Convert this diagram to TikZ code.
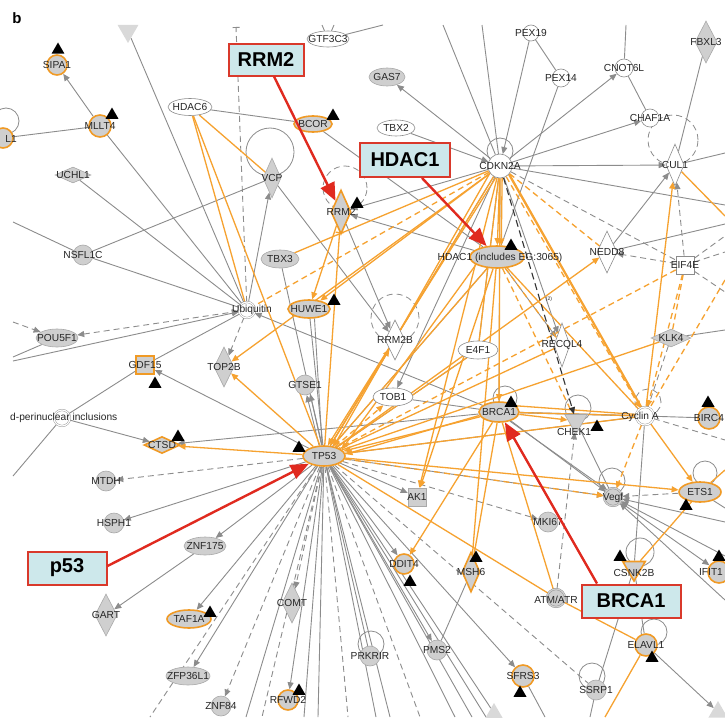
\documentclass[tikz,border=0pt]{standalone}
\usepackage{fontspec}
\setmainfont{Liberation Sans}
\usetikzlibrary{shapes.geometric,arrows.meta,calc}
\definecolor{egray}{HTML}{8C8C8C}
\definecolor{ngray}{HTML}{CFCFCF}
\definecolor{nbord}{HTML}{A9A9A9}
\definecolor{eor}{HTML}{F6A230}
\definecolor{nor}{HTML}{F09A25}
\definecolor{lbfill}{HTML}{CDE8EB}
\definecolor{lbred}{HTML}{D9392B}
\definecolor{redar}{HTML}{E02A1F}
\pgfdeclarelayer{bg}
\pgfsetlayers{bg,main}
\newcommand\Nd[4]{\node[#1] (#2) at (#3) {}; \node[lbl] (#2-t) at (#3) {#4};}
\newcommand\Mk[2]{\node[mk] (#1-m) at (#2) {};}
\tikzset{
 lbl/.style={font=\fontsize{10.2}{11}\selectfont, text=black!85, inner sep=0pt},
 nG/.style={fill=ngray, draw=nbord, line width=0.6pt, inner sep=0pt},
 nW/.style={fill=white, draw=egray, line width=0.6pt, inner sep=0pt},
 nO/.style={fill=ngray, draw=nor, line width=1.6pt, inner sep=0pt},
 cir/.style={circle, minimum size=20pt},
 ell/.style={ellipse, minimum width=40pt, minimum height=18pt},
 vdia/.style={diamond, minimum width=20pt, minimum height=42pt},
 hdia/.style={diamond, minimum width=36pt, minimum height=16pt},
 sq/.style={rectangle, minimum size=18pt},
 dtri/.style={regular polygon, regular polygon sides=3, shape border rotate=180, minimum size=26pt},
 utri/.style={regular polygon, regular polygon sides=3, minimum size=22pt},
 dcir/.style={circle, double=white, double distance=1.2pt, draw=egray, fill=white, minimum size=16pt, inner sep=0pt},
 mk/.style={regular polygon, regular polygon sides=3, fill=black, draw=none, minimum size=15pt, inner sep=0pt},
 loopc/.style={circle, draw=egray, line width=0.8pt, fill=none, inner sep=0pt},
 labbox/.style={rectangle, fill=lbfill, draw=lbred, line width=2pt, font=\bfseries\fontsize{20}{22}\selectfont, inner sep=0pt},
 eg/.style={draw=egray, line width=0.9pt},
 ea/.style={-{Triangle[length=7pt,width=6pt]}},
 eab/.style={{Triangle[length=7pt,width=6pt]}-{Triangle[length=7pt,width=6pt]}},
 dsh/.style={dash pattern=on 6pt off 4pt},
 eo/.style={draw=eor, line width=1.3pt},
 ek/.style={draw=black!80, line width=1.1pt, dash pattern=on 7pt off 4pt},
 ered/.style={draw=redar, line width=2.4pt, -{Triangle[length=18pt,width=15pt]}}
}
\begin{document}
\begin{tikzpicture}[x=1pt,y=-1pt]
\useasboundingbox (0,0) rectangle (725,717);
\begin{pgfonlayer}{bg}
\fill[white] (0,0) rectangle (725,717);
\end{pgfonlayer}
\node[font=\bfseries\fontsize{15}{16}\selectfont, inner sep=0pt] (panelb) at (17,18) {b};
% ---------- nodes ----------
\Nd{nO,cir}{sipa}{57,65}{SIPA1}
\Mk{sipa}{58,50}
\Nd{nO,cir,minimum size=22pt}{mllt}{100,126}{MLLT4}
\Mk{mllt}{112,115}
\node[nO,cir] (lone) at (3,138) {}; \node[lbl,anchor=east] (lone-t) at (17,139) {L1};
\node[dtri,minimum size=24pt,fill=ngray!80,draw=none] (toptri) at (128,31) {};
\Nd{nG,hdia}{uchl}{73,175}{UCHL1}
\Nd{nW,ell,minimum width=44pt,minimum height=17pt}{hdacsix}{190,107}{HDAC6}
\Nd{nW,ell,minimum width=42pt,minimum height=16pt}{gtf}{328,39}{GTF3C3}
\Nd{nG,ell,minimum width=36pt}{gas}{387,77}{GAS7}
\Nd{nO,ell,minimum width=38pt,minimum height=16pt}{bcor}{313,124}{BCOR}
\Mk{bcor}{333,116}
\Nd{nW,ell,minimum width=38pt,minimum height=16pt}{tbxtwo}{396,128}{TBX2}
\Nd{nW,cir,minimum size=16pt}{pexnine}{531,33}{PEX19}
\Nd{nW,cir,minimum size=18pt}{pexfour}{561,78}{PEX14}
\Nd{nW,cir,minimum size=18pt}{cnot}{624,68}{CNOT6L}
\Nd{nG,vdia,minimum width=22pt}{fbxl}{706,42}{FBXL3}
\Nd{nW,cir,minimum size=18pt}{chaf}{650,118}{CHAF1A}
\Nd{nW,vdia,minimum width=18pt}{cul}{675,165}{CUL1}
\Nd{nW,cir,minimum size=24pt}{cdkn}{500,166}{CDKN2A}
\Nd{nG,vdia,minimum width=18pt,minimum height=40pt}{vcp}{272,178}{VCP}
\Nd{nO,vdia,minimum width=20pt,minimum height=44pt}{rrm}{341,212}{RRM2}
\Mk{rrm}{357,204}
\Nd{nG,cir}{nsfl}{83,255}{NSFL1C}
\Nd{nG,ell,minimum width=38pt}{tbxthree}{280,259}{TBX3}
\node[dcir] (ubq) at (247,310) {}; \node[lbl] (ubq-t) at (252,310) {Ubiquitin};
\Nd{nO,ell,minimum width=42pt}{huwe}{309,309}{HUWE1}
\Mk{huwe}{334,301}
\node[nO,ell,minimum width=54pt,minimum height=22pt] (hdac) at (497,257) {};
\node[lbl] (hdac-t) at (500,258) {HDAC1 (includes EG:3065)};
\Mk{hdac}{511,246}
\Nd{nW,vdia,minimum width=20pt}{nedd}{607,252}{NEDD8}
\Nd{nW,sq}{eif}{685,265}{EIF4E}
\Nd{nG,ell,minimum width=42pt}{pou}{57,338}{POU5F1}
\Nd{nW,vdia,minimum width=20pt,minimum height=40pt}{rrmb}{395,340}{RRM2B}
\Nd{nW,ell,minimum width=40pt}{efour}{478,350}{E4F1}
\Nd{nW,vdia,minimum width=16pt,minimum height=44pt}{recq}{562,345}{RECQL4}
\Nd{nG,hdia,minimum width=40pt,minimum height=18pt}{klk}{671,338}{KLK4}
\Nd{nO,sq}{gdf}{145,365}{GDF15}
\Mk{gdf}{155,384}
\Nd{nG,vdia,minimum width=20pt,minimum height=40pt}{topb}{224,367}{TOP2B}
\Nd{nG,cir}{gtse}{305,385}{GTSE1}
\Nd{nW,ell,minimum width=40pt}{tob}{393,397}{TOB1}
\Nd{nO,ell,minimum width=40pt,minimum height=20pt}{brca}{499,412}{BRCA1}
\Mk{brca}{511,403}
\node[nG,dtri,minimum size=26pt] (chek) at (576,421) {}; \node[lbl] (chek-t) at (574,432) {CHEK1};
\Mk{chek}{597,427}
\node[dcir,minimum size=18pt] (cyca) at (645,416) {}; \node[lbl] (cyca-t) at (640,417) {Cyclin A};
\Nd{nO,cir,minimum size=22pt}{birc}{709,418}{BIRC4}
\Mk{birc}{708,403}
\node[dcir] (incl) at (62,418) {}; \node[lbl,anchor=west] (incl-t) at (10,418) {d-perinuclear inclusions};
\Nd{nO,hdia,minimum width=36pt,minimum height=17pt}{ctsd}{162,445}{CTSD}
\Mk{ctsd}{178,437}
\Nd{nO,ell,minimum width=42pt,minimum height=20pt}{tp}{324,456}{TP53}
\Mk{tp}{299,448}
\Nd{nG,cir}{mtdh}{106,481}{MTDH}
\Nd{nG,cir}{hsph}{114,523}{HSPH1}
\Nd{nG,sq}{ak}{417,497}{AK1}
\Nd{nG,cir}{mki}{548,522}{MKI67}
\node[dcir,fill=ngray,double=ngray,minimum size=18pt] (vegf) at (613,497) {}; \node[lbl] (vegf-t) at (613,498) {Vegf};
\Nd{nO,ell,minimum width=42pt,minimum height=20pt}{ets}{700,492}{ETS1}
\Mk{ets}{686,506}
\Nd{nG,ell,minimum width=42pt}{znfone}{205,546}{ZNF175}
\Nd{nO,cir}{ddit}{404,564}{DDIT4}
\Mk{ddit}{410,582}
\Nd{nO,vdia,minimum width=18pt,minimum height=40pt}{msh}{471,572}{MSH6}
\Mk{msh}{476,558}
\node[nO,dtri,minimum size=26pt] (csnk) at (634,568) {}; \node[lbl] (csnk-t) at (634,573) {CSNK2B};
\Mk{csnk}{620,557}
\node[nO,cir,minimum size=22pt] (ifit) at (719,572) {}; \node[lbl] (ifit-t) at (711,572) {IFIT1};
\Mk{ifit}{719,557}
\Nd{nG,vdia,minimum width=22pt}{gart}{106,615}{GART}
\Nd{nO,ell,minimum width=44pt}{taf}{189,619}{TAF1A}
\Mk{taf}{210,613}
\Nd{nG,vdia,minimum width=20pt,minimum height=40pt}{comt}{292,603}{COMT}
\node[dcir,fill=ngray,double=ngray,minimum size=18pt] (atm) at (556,598) {}; \node[lbl] (atm-t) at (556,600) {ATM/ATR};
\Nd{nO,cir,minimum size=22pt}{elav}{646,645}{ELAVL1}
\Mk{elav}{652,658}
\Nd{nG,cir}{prk}{370,656}{PRKRIR}
\Nd{nG,cir}{pms}{437,650}{PMS2}
\Nd{nG,ell,minimum width=44pt}{zfp}{188,676}{ZFP36L1}
\Nd{nO,cir,minimum size=22pt}{sfrs}{523,676}{SFRS3}
\Mk{sfrs}{520,693}
\Nd{nG,cir}{ssrp}{596,690}{SSRP1}
\Nd{nO,cir}{rfwd}{288,700}{RFWD2}
\Mk{rfwd}{299,691}
\Nd{nG,cir}{znfe}{221,706}{ZNF84}
\node[utri,fill=ngray!80,draw=none,minimum size=20pt] (bltri) at (494,713) {};
\node[utri,fill=ngray!80,draw=none,minimum size=22pt] (brtri) at (718,712) {};
\node[lbl,font=\fontsize{5}{6}\selectfont] (pair-t) at (549,299) {(2)};
% label boxes
\node[labbox,minimum width=75pt,minimum height=31pt] (lbrrm) at (266,60) {RRM2};
\node[labbox,minimum width=90pt,minimum height=34pt] (lbhdac) at (405,160) {HDAC1};
\node[labbox,minimum width=79pt,minimum height=33pt] (lbp) at (67,568) {p53};
\node[labbox,minimum width=99pt,minimum height=33pt] (lbbrca) at (631,601) {BRCA1};
% ---------- free ends ----------
\coordinate (cT1) at (443,25); \coordinate (cT2) at (482,25); \coordinate (cT3) at (383,25);
\coordinate (cT5) at (626,25); \coordinate (cT6) at (322,25); \coordinate (cT7) at (334,25);
\coordinate (cT8) at (236,27);
\coordinate (cL1) at (13,222); \coordinate (cL2) at (13,322); \coordinate (cL3) at (13,357);
\coordinate (cL4) at (13,361); \coordinate (cL5) at (13,476);
\coordinate (cR1) at (725,153); \coordinate (cR2) at (725,440); \coordinate (cR3) at (725,522);
\coordinate (cR4) at (725,556); \coordinate (cR5) at (725,600); \coordinate (cR6) at (725,508);
\coordinate (cR7) at (725,205); \coordinate (cR8) at (725,224); \coordinate (cR9) at (725,236);
\coordinate (cR10) at (725,252); \coordinate (cR11) at (725,292); \coordinate (cR12) at (725,330);
\coordinate (cR14) at (725,470); \coordinate (cR15) at (725,216); \coordinate (cR16) at (725,280);
\coordinate (cB1) at (545,717); \coordinate (cB2) at (605,717); \coordinate (cB3) at (590,717);
\coordinate (s1) at (150,717); \coordinate (s2) at (246,717); \coordinate (s3) at (262,717);
\coordinate (s4) at (304,717); \coordinate (s5) at (318,717); \coordinate (s6) at (348,717);
\coordinate (s7) at (376,717); \coordinate (s8) at (390,717); \coordinate (s9) at (420,717);
\coordinate (s10) at (455,717); \coordinate (s11) at (472,717); \coordinate (s12) at (486,717);
% ---------- edges ----------
\begin{pgfonlayer}{bg}
% loops
\node[loopc,minimum size=26pt] (lone-l) at (6,121) {};
\node[loopc,minimum size=48pt] (vcp-l) at (270,152) {};
\node[loopc,dsh,minimum size=44pt] (rrm-l) at (345,188) {};
\node[loopc,minimum size=26pt] (cdkn-l) at (500,151) {};
\node[loopc,dsh,minimum size=50pt] (cul-l) at (673,140) {};
\node[loopc,dsh,minimum size=48pt] (rrmb-l) at (395,318) {};
\node[loopc,minimum size=24pt] (brca-l) at (505,398) {};
\node[loopc,minimum size=26pt] (chek-l) at (578,408) {};
\node[loopc,dsh,minimum size=26pt] (cyca-l) at (648,402) {};
\node[loopc,minimum size=26pt] (vegf-l) at (612,481) {};
\node[loopc,minimum size=24pt] (ets-l) at (705,473) {};
\node[loopc,minimum size=28pt] (csnk-l) at (640,552) {};
\node[loopc,minimum size=26pt] (elav-l) at (654,632) {};
\node[loopc,minimum size=26pt] (prk-l) at (371,644) {};
\node[loopc,minimum size=26pt] (ssrp-l) at (592,676) {};
% gray edges
\draw[eg,ea] (mllt) -- (sipa);
\draw[eg] (lone) -- (mllt);
\draw[eg] (mllt) -- (ubq);
\draw[eg] (toptri) -- (ubq);
\draw[eg] (uchl) -- (ubq);
\draw[eg] (nsfl) -- (ubq);
\draw[eg] (nsfl) -- (cL1);
\draw[eg] (nsfl) -- (vcp);
\draw[eg] (hdacsix) -- (bcor);
\draw[eg,dsh,-{Bar[width=7pt]}] (ubq) -- (cT8);
\draw[eg,ea] (ubq) -- (vcp);
\draw[eg,ea] (vcp) -- (rrmb);
\draw[eg] (bcor) -- (hdac);
\draw[eg,ea] (cdkn) -- (gas);
\draw[eg,ea] (tbxtwo) -- (cdkn);
\draw[eg] (pexnine) -- (pexfour);
\draw[eg,ea] (pexnine) -- (cdkn);
\draw[eg] (pexfour) -- (hdac);
\draw[eg] (cnot) -- (chaf);
\draw[eg,ea] (cdkn) -- (cnot);
\draw[eg,ea] (cdkn) -- (chaf);
\draw[eg,ea] (cdkn) -- (cul);
\draw[eg] (cnot) -- (cT5);
\draw[eg] (fbxl) -- (cul);
\draw[eg] (cul) -- (cR1);
\draw[eg] (cT1) -- (cdkn);
\draw[eg] (cT2) -- (cdkn);
\draw[eg] (gtf) -- (cT3);
\draw[eg] (gtf) -- (cT6);
\draw[eg] (gtf) -- (cT7);
\draw[eg,ea] (cdkn) -- (rrm);
\draw[eg,ea] (hdac) -- (rrm);
\draw[eg,ea] (rrm) -- (rrmb);
\draw[eg] (tbxthree) -- (tp);
\draw[eg] (huwe) -- (tp);
\draw[eg] (huwe.300) -- (tp.100);
\draw[eg,ea] (tp.115) -- (gtse.280);
\draw[eg,ea] (tp.100) -- (gtse.300);
\draw[eg,dsh,ea] (ubq) -- (topb);
\draw[eg,dsh,eab] (pou) -- (ubq);
\draw[eg,dsh,ea] (cL2) -- (pou);
\draw[eg] (pou) -- (cL3);
\draw[eg,ea] (cL4) -- (ubq);
\draw[eg] (gdf) -- (ubq);
\draw[eg] (incl) -- (gdf);
\draw[eg] (incl) -- (cL5);
\draw[eg,ea] (incl) -- (ctsd);
\draw[eg,ea] (tp) -- (gdf);
\draw[eg,ea] (brca) -- (ctsd);
\draw[eg,ea] (brca) -- (ubq);
\draw[eg,ea] (cdkn) -- (tob);
\draw[eg] (cdkn) -- (tp);
\draw[eg] (hdac) -- (tp);
\draw[eg] (efour) -- (tp);
\draw[eg,dsh,ea] (tp) -- (mtdh);
\draw[eg,ea] (tp) -- (hsph);
\draw[eg,ea] (tp) -- (znfone);
\draw[eg,ea] (znfone) -- (gart);
\draw[eg,ea] (tp) -- (taf);
\draw[eg,ea] (tp) -- (zfp);
\draw[eg,dsh,ea] (tp) -- (znfe);
\draw[eg,dsh,ea] (tp) -- (comt);
\draw[eg,ea] (tp) -- (rfwd);
\draw[eg] (tp) -- (prk);
\draw[eg,ea] (tp) -- (ddit);
\draw[eg,ea] (tp) -- (pms);
\draw[eg] (pms) -- (msh);
\draw[eg,ea] (tp) -- (ak);
\draw[eg,dsh,ea] (tp) -- (mki);
\draw[eg,ea] (tp) -- (vegf);
\draw[eg] (tp) -- (cyca);
\draw[eg,ea] (tp) -- (sfrs);
\draw[eg] (tp) -- (bltri);
\draw[eg,dsh] (tp) -- (ssrp);
\draw[eg] (sfrs) -- (cB1);
\draw[eg,dsh] (tp) -- (s1);
\draw[eg] (tp) -- (s2);
\draw[eg,dsh] (tp) -- (s3);
\draw[eg] (tp) -- (s4);
\draw[eg] (tp) -- (s5);
\draw[eg,dsh] (tp) -- (s6);
\draw[eg] (tp) -- (s7);
\draw[eg] (tp) -- (s8);
\draw[eg,dsh] (tp) -- (s9);
\draw[eg] (tp) -- (s10);
\draw[eg] (tp) -- (s11);
\draw[eg] (tp) -- (s12);
\draw[eg,line width=1.4pt] (brca) -- (cyca);
\draw[eg,ea] (brca) -- (vegf);
\draw[eg,ea] (brca.320) -- (vegf.130);
\draw[eg] (chek) -- (vegf);
\draw[eg] (birc) -- (cyca);
\draw[eg,dsh] (cyca) -- (cR2);
\draw[eg] (cyca) -- (csnk);
\draw[eg] (csnk) -- (elav);
\draw[eg] (ssrp) -- (csnk);
\draw[eg] (ssrp) -- (cB3);
\draw[eg,dsh,ea] (atm) -- (chek);
\draw[eg,ea] (elav) -- (brtri);
\draw[eg,ea] (vegf) -- (ifit);
\draw[eg,dsh,ea] (ets) -- (vegf);
\draw[eg,ea] (cR3) -- (vegf);
\draw[eg,ea] (cR4) -- (vegf);
\draw[eg,ea] (cR5) -- (vegf);
\draw[eg] (ets) -- (cR6);
\draw[eg] (cdkn) -- (cR7);
\draw[eg,ea] (nedd) -- (cul);
\draw[eg,dsh,ea] (eif) -- (nedd);
\draw[eg] (cR8) -- (nedd);
\draw[eg,dsh] (cdkn) -- (eif);
\draw[eg,dsh] (eif) -- (cR9);
\draw[eg,dsh] (eif) -- (cR10);
\draw[eg,dsh] (eif) -- (cR11);
\draw[eg,dsh,ea] (eif) -- (cul);
\draw[eg] (klk) -- (cR12);
\draw[eg,dsh] (klk) -- (cyca);
\draw[eg,ea] (cdkn) -- (recq);
\draw[eg,ea] (hdac) -- (recq);
\draw[eg] (cdkn) -- (brca);
\draw[eg] (tob) -- (brca);
\draw[eg] (cdkn) -- (efour);
% orange edges
\draw[eo] (hdacsix) -- (ubq);
\draw[eo] (hdacsix) -- (vcp);
\draw[eo] (hdacsix) -- (tp);
\draw[eo] (cdkn) -- (tbxthree);
\draw[eo,dsh] (cdkn) -- (ubq);
\draw[eo,ea] (rrm) -- (huwe);
\draw[eo,-{Bar[width=8pt]}] (tp) -- (rrm);
\draw[eo,ea] (cdkn) -- (tp);
\draw[eo,ea] (cdkn.215) -- (tp.45);
\draw[eo,ea] (cdkn.250) -- (tp.70);
\draw[eo,ea] (hdac) -- (tp);
\draw[eo,ea] (hdac.200) -- (tp.20);
\draw[eo,ea] (brca) -- (tp);
\draw[eo,ea] (brca.190) -- (tp.5);
\draw[eo] (efour) -- (tp);
\draw[eo] (cyca) -- (tp);
\draw[eo] (recq) -- (tp);
\draw[eo] (klk) -- (tp);
\draw[eo,dsh] (eif) -- (tp);
\draw[eo,dsh,ea] (tp) -- (tob);
\draw[eo,ea] (tp) -- (rrmb);
\draw[eo,ea] (tp) -- (ctsd);
\draw[eo,ea] (tp) -- (topb);
\draw[eo,ea] (cdkn) -- (topb);
\draw[eo,ea] (cdkn) -- (huwe);
\draw[eo,ea] (cdkn) -- (hdac);
\draw[eo,ea] (cdkn.280) -- (hdac.70);
\draw[eo,ea] (cdkn) -- (brca);
\draw[eo] (cdkn) -- (efour);
\draw[eo,ea] (cdkn) -- (ak);
\draw[eo,ea] (hdac) -- (ak);
\draw[eo,dsh] (cdkn) -- (nedd);
\draw[eo,dsh,ea] (cdkn) -- (cyca);
\draw[eo] (cdkn.320) -- (cyca.110);
\draw[eo] (cdkn.315) -- (cyca.115);
\draw[eo,ea] (tp) -- (nedd);
\draw[eo,dsh,ea] (eif) -- (cyca);
\draw[eo,ea] (cyca) -- (cul);
\draw[eo] (hdac) -- (cyca);
\draw[eo] (brca) -- (cyca);
\draw[eo] (brca.20) -- (cyca.170);
\draw[eo,ea] (brca) -- (chek);
\draw[eo,ea] (cyca) -- (ets);
\draw[eo,ea] (tp) -- (ets);
\draw[eo,dsh,ea] (tp) -- (vegf);
\draw[eo,dsh,ea] (cyca) -- (vegf);
\draw[eo,dsh] (hdac) -- (chek);
\draw[eo,dsh] (hdac) -- (recq);
\draw[eo] (hdac) -- (msh);
\draw[eo,ea] (brca) -- (ddit);
\draw[eo] (brca) -- (atm);
\draw[eo] (brca) -- (msh);
\draw[eo] (tp) -- (atm);
\draw[eo] (atm) -- (elav);
\draw[eo] (elav) -- (cB2);
\draw[eo] (ets) -- (csnk);
\draw[eo] (ets) -- (cR14);
\draw[eo] (cul) -- (cR15);
\draw[eo,dsh] (cR16) -- (cyca);
\draw[eo,dsh] (eif) -- (klk);
% black dashed
\draw[ek,ea] (cdkn) -- (chek);
\end{pgfonlayer}
% red arrows
\draw[ered] ($(lbrrm.south)+(8,0)$) -- (rrm);
\draw[ered] ($(lbhdac.south)+(17,0)$) -- (hdac);
\draw[ered] ($(lbp.east)+(0,-2)$) -- (tp);
\draw[ered] ($(lbbrca.north)+(-34,0)$) -- (brca);
\end{tikzpicture}
\end{document}
